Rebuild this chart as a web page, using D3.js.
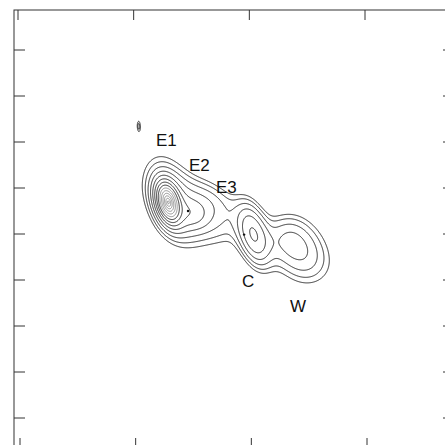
<!DOCTYPE html>
<html>
<head>
<meta charset="utf-8">
<script src="https://cdn.jsdelivr.net/npm/d3@7"></script>
<style>
  html, body { margin: 0; padding: 0; background: #fff; }
  svg { display: block; }
  text { font-family: "Liberation Sans", Arial, sans-serif; }
</style>
</head>
<body>
<svg id="chart"></svg>
<script>
// emission components (offsets in arcsec, y up)
// profile: amp * exp(-0.5 * r^power), r in units of major/minor widths
const compName  = ["E1 core", "E1 halo", "E ext", "E2", "E3", "C", "W", "W2", "jet", "knot"];
const compX     = [12.97, 13.32, 16.17, 15.13, 16.60, 20.32, 24.38, 23.08, 20.06, 10.42];
const compY     = [18.78, 18.96, 17.65, 17.83, 19.13, 16.00, 14.52, 15.83, 15.96, 25.39];
const compAmp   = [110, 2.7, 1.8, 1.8, 1.0, 5.2, 2.6, 1.1, 0.3, 1.6];
const compMajor = [0.30, 2.6, 2.2, 0.9, 1.6, 1.8, 2.0, 1.3, 7.0, 0.43];
const compMinor = [0.16, 1.4, 1.6, 0.8, 1.0, 0.82, 1.55, 1.3, 1.4, 0.13];
const compAngle = [-75, -70, -35, -40, -35, -75, -60, -40, -24, -88];
const compPower = [1, 2, 2, 2, 2, 2, 2, 2, 2, 2];

const contourLevels = [1, 1.41, 2, 2.83, 4, 5.66, 8, 11.3, 16, 22.6, 32, 45.3, 64, 90.5];

const xTicks = [0, 10, 20, 30];
const yTicks = [0, 4, 8, 12, 16, 20, 24, 28, 32];

const labelText = ["E1", "E2", "E3", "C", "W"];
const labelX    = [11.93, 14.78, 17.12, 19.37, 23.52];
const labelY    = [23.65, 21.48, 19.57, 11.39, 9.22];

const markX = [14.70, 19.55];
const markY = [18.00, 15.95];

const W = 445, H = 445;
const svg = d3.select("#chart").attr("width", W).attr("height", H);

let x = d3.scaleLinear().domain([0, 30]).range([18, 365]);
let y = d3.scaleLinear().domain([0, 32]).range([418, 50]);

// frame box (extends past the window on right and bottom)
const fx0 = x.invert(14), fx1 = x.invert(454);
const fy0 = y.invert(10), fy1 = y.invert(448);

// sample the brightness on a grid
const u0 = 7, u1 = 30, v0 = 8, v1 = 28, step = 0.05;
const nx = Math.round((u1 - u0) / step) + 1;
const ny = Math.round((v1 - v0) / step) + 1;
const values = new Float64Array(nx * ny);
const comps = compX.map((cx, i) => {
  const a = compAngle[i] * Math.PI / 180;
  return { cx, cy: compY[i], amp: compAmp[i], sa: compMajor[i], sb: compMinor[i],
           c: Math.cos(a), s: Math.sin(a), pw: compPower[i] };
});
for (let j = 0; j < ny; j++) {
  const v = v1 - j * step;
  for (let i = 0; i < nx; i++) {
    const u = u0 + i * step;
    let f = 0;
    for (const k of comps) {
      const dx = u - k.cx, dy = v - k.cy;
      const p = (dx * k.c + dy * k.s) / k.sa;
      const q = (-dx * k.s + dy * k.c) / k.sb;
      const r2 = p * p + q * q;
      f += k.amp * Math.exp(-0.5 * Math.pow(r2, k.pw / 2));
    }
    values[j * nx + i] = f;
  }
}

const contours = d3.contours().size([nx, ny]).thresholds(contourLevels)(values);
const proj = d3.geoTransform({
  point: function (gx, gy) {
    this.stream.point(x(u0 + gx * step), y(v1 - gy * step));
  }
});
const path = d3.geoPath(proj);

svg.append("g")
  .selectAll("path")
  .data(contours)
  .enter().append("path")
  .attr("d", path)
  .attr("fill", "none")
  .attr("stroke", d => d.value > 12 ? "#555" : "#1a1a1a")
  .attr("stroke-width", d => d.value > 12 ? 0.6 : 0.9);

svg.append("g")
  .selectAll("circle")
  .data(markX)
  .enter().append("circle")
  .attr("cx", d => x(d))
  .attr("cy", (d, i) => y(markY[i]))
  .attr("r", 1.2)
  .attr("fill", "#111");

// frame
svg.append("rect")
  .attr("x", x(fx0)).attr("y", y(fy0))
  .attr("width", x(fx1) - x(fx0)).attr("height", y(fy1) - y(fy0))
  .attr("fill", "none").attr("stroke", "#333").attr("stroke-width", 1);

const tick = svg.append("g").attr("stroke", "#333").attr("stroke-width", 1);
tick.selectAll(".tt").data(xTicks).enter().append("line")
  .attr("x1", d => x(d)).attr("x2", d => x(d))
  .attr("y1", y(fy0)).attr("y2", y(fy0) + 10);
tick.selectAll(".tb").data(xTicks).enter().append("line")
  .attr("x1", d => x(d) + 2).attr("x2", d => x(d) + 2)
  .attr("y1", y(fy1)).attr("y2", y(fy1) - 10);
tick.selectAll(".tl").data(yTicks).enter().append("line")
  .attr("x1", x(fx0)).attr("x2", x(fx0) + 11)
  .attr("y1", d => y(d)).attr("y2", d => y(d));
tick.selectAll(".tr").data(yTicks).enter().append("line")
  .attr("x1", x(fx1)).attr("x2", x(fx1) - 11)
  .attr("y1", d => y(d)).attr("y2", d => y(d));

svg.append("g")
  .selectAll("text")
  .data(labelText)
  .enter().append("text")
  .attr("x", (d, i) => x(labelX[i]))
  .attr("y", (d, i) => y(labelY[i]))
  .attr("font-size", 17)
  .attr("fill", "#111")
  .text(d => d);
</script>
</body>
</html>
